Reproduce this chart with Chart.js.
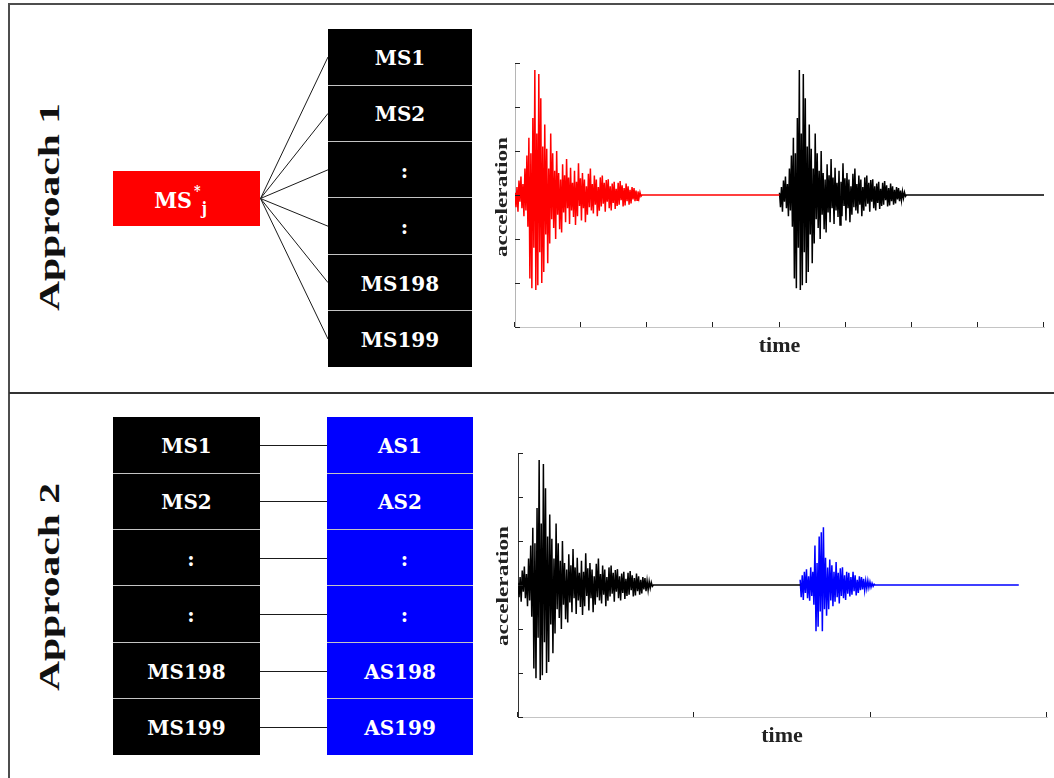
<!DOCTYPE html>
<html>
<head>
<meta charset="utf-8">
<script src="https://cdn.jsdelivr.net/npm/chart.js@4.4.1/dist/chart.umd.min.js"></script>
<style>
html,body{margin:0;padding:0;background:#fff;}
#page{position:relative;width:1054px;height:778px;overflow:hidden;background:#fff;}
.rule{position:absolute;background:#4d4d4d;}
.approach{position:absolute;font:bold 29px "Liberation Serif","Times New Roman",serif;color:#111;white-space:nowrap;line-height:1;transform:translate(-50%,-50%) rotate(-90deg) scaleX(1.43);}
.ylab{position:absolute;font:bold 16.5px "Liberation Serif","Times New Roman",serif;color:#222;white-space:nowrap;line-height:1;transform:translate(-50%,-50%) rotate(-90deg) scaleX(1.41);}
.xlab{position:absolute;font:bold 22px "Liberation Serif","Times New Roman",serif;color:#222;white-space:nowrap;line-height:1;transform:translate(-50%,-50%);}
.col{position:absolute;background:#c4c4c4;}
.cell{position:absolute;left:0;right:0;display:flex;align-items:center;justify-content:center;color:#fff;font:bold 20px "DejaVu Serif",serif;padding-top:2px;box-sizing:border-box;}
.cell.dots{padding-left:9px;}
.redbox{position:absolute;left:113px;top:171px;width:147px;height:55px;background:#ff0000;color:#fff;display:flex;align-items:center;justify-content:center;font:600 23px "DejaVu Serif Condensed","DejaVu Serif",serif;padding-right:12px;padding-top:2px;box-sizing:border-box;}
.redbox .sup{font-size:14px;position:relative;top:-9px;margin-left:2px;}
.redbox .sub{font-size:16px;position:relative;top:9px;margin-left:1px;}
canvas{position:absolute;}
svg{position:absolute;left:0;top:0;}
</style>
</head>
<body>
<div id="page">
  <div class="rule" style="left:9px;top:3px;width:1045px;height:2px;"></div>
  <div class="rule" style="left:8px;top:3px;width:2px;height:775px;"></div>
  <div class="rule" style="left:9px;top:392px;width:1045px;height:2px;background:#333;"></div>

  <div class="approach" style="left:49px;top:207px;">Approach 1</div>
  <div class="approach" style="left:49px;top:587px;">Approach 2</div>

  <div class="redbox">MS<span class="sup">*</span><span class="sub">j</span></div>

  <svg id="links" width="1054" height="778"></svg>
  <div id="cols"></div>

  <canvas id="chart1" width="564" height="330" style="left:490px;top:40px;"></canvas>
  <canvas id="chart2" width="564" height="330" style="left:490px;top:430px;"></canvas>

  <div class="ylab" style="left:502px;top:197px;">acceleration</div>
  <div class="xlab" style="left:779.5px;top:345px;">time</div>
  <div class="ylab" style="left:503px;top:586px;">acceleration</div>
  <div class="xlab" style="left:782px;top:735px;">time</div>
</div>

<script>
// Record labels
const mainshockLabels = ['MS1', 'MS2', ':', ':', 'MS198', 'MS199'];
const aftershockLabels = ['AS1', 'AS2', ':', ':', 'AS198', 'AS199'];

// Mainshock acceleration record (sampled every 0.15 s)
const sampleStep = 0.15;
const mainshockWave = [
  0.05, -0.28, 0.18, -0.38, 0.33, -0.15, 0.42, -0.30, 0.25, -0.48,
  0.60, -0.35, 0.90, -0.72, 1.30, -1.90, 0.95, -2.12, 1.75, -1.20,
  2.84, -2.16, 1.40, -2.05, 2.75, -1.30, 2.20, -2.00, 1.10, -1.75,
  1.60, -0.90, 1.05, -1.55, 0.60, -1.10, 1.40, -0.55, 0.95, -0.75,
  0.55, -1.00, 1.00, -0.45, 0.50, -0.78, 0.35, -0.85, 0.70, -0.40,
  0.45, -0.62, 0.82, -0.30, 0.40, -0.66, 0.62, -0.35, 0.28, -0.50,
  0.55, -0.68, 0.30, -0.48, 0.72, -0.25, 0.38, -0.58, 0.50, -0.30,
  0.35, -0.62, 0.20, -0.45, 0.48, -0.28, 0.60, -0.35, 0.25, -0.42,
  0.44, -0.22, 0.35, -0.48, 0.18, -0.36, 0.40, -0.26, 0.44, -0.20,
  0.28, -0.38, 0.34, -0.15, 0.36, -0.30, 0.20, -0.35, 0.26, -0.18,
  0.30, -0.32, 0.14, -0.25, 0.28, -0.22, 0.32, -0.12, 0.22, -0.26,
  0.16, -0.24, 0.26, -0.14, 0.20, -0.22, 0.12, -0.19, 0.18, -0.10,
  0.16, -0.14, 0.10, -0.12, 0.08, -0.07, 0.06, -0.03, 0.00
];

// Aftershock acceleration record (sampled every 0.15 s)
const aftershockWave = [
  0.12, -0.28, 0.22, -0.34, 0.30, -0.18, 0.36, -0.30, 0.20, -0.36,
  0.40, -0.25, 0.30, -0.45, 0.90, -1.05, 0.50, -0.95, 1.10, -0.60,
  1.20, -1.05, 1.31, -0.55, 0.62, -0.70, 0.40, -0.55, 0.58, -0.35,
  0.45, -0.48, 0.30, -0.38, 0.52, -0.28, 0.28, -0.42, 0.38, -0.25,
  0.40, -0.30, 0.22, -0.34, 0.30, -0.20, 0.28, -0.26, 0.18, -0.22,
  0.30, -0.14, 0.22, -0.24, 0.12, -0.18, 0.20, -0.12, 0.18, -0.10,
  0.14, -0.12, 0.10, -0.08, 0.10, -0.06, 0.07, -0.05, 0.04, -0.03,
  0.02, 0.00
];

// Sequence timing [wave start, record end] in seconds
const seq1First = [0, 40];
const seq1Second = [40, 80];
const seq2First = [0, 40];
const seq2Second = [40, 71];

// Axis ranges and tick steps
const xRange1 = [0, 80], xStep1 = 10;
const xRange2 = [0, 75], xStep2 = 25;
const yRange = [-3, 3], yStep = 1;

// ---- block diagrams ----
const cols = document.getElementById('cols');
const svg = document.getElementById('links');
const rowStep = 56.4, rowH = 55.4;

function column(labels, left, top, width, color) {
  const c = document.createElement('div');
  c.className = 'col';
  c.style.left = left + 'px';
  c.style.top = top + 'px';
  c.style.width = width + 'px';
  c.style.height = (rowStep * (labels.length - 1) + rowH) + 'px';
  labels.forEach((lab, i) => {
    const d = document.createElement('div');
    d.className = 'cell' + (lab === ':' ? ' dots' : '');
    d.style.top = (i * rowStep) + 'px';
    d.style.height = rowH + 'px';
    d.style.background = color;
    d.textContent = lab;
    c.appendChild(d);
  });
  cols.appendChild(c);
}

function link(x1, y1, x2, y2) {
  const l = document.createElementNS('http://www.w3.org/2000/svg', 'line');
  l.setAttribute('x1', x1); l.setAttribute('y1', y1);
  l.setAttribute('x2', x2); l.setAttribute('y2', y2);
  l.setAttribute('stroke', '#1a1a1a');
  l.setAttribute('stroke-width', '1');
  svg.appendChild(l);
}

// Approach 1: one target mainshock linked to every record
const top1 = 29.3;
column(mainshockLabels, 328, top1, 144, '#000');
mainshockLabels.forEach((_, i) => link(260.5, 198.5, 328, top1 + i * rowStep + rowH / 2));

// Approach 2: each mainshock paired with its own aftershock
const top2 = 417.3;
column(mainshockLabels, 113, top2, 147, '#000');
column(aftershockLabels, 327, top2, 146, '#0000ff');
mainshockLabels.forEach((_, i) => {
  const y = Math.round(top2 + i * rowStep + rowH / 2) + 0.5;
  link(260, y, 327, y);
});

// ---- acceleration time histories ----
function wavePoints(wave, span) {
  const pts = wave.map((v, i) => ({ x: span[0] + i * sampleStep, y: v }));
  pts.push({ x: span[1], y: 0 });
  return pts;
}

const innerTicks = {
  id: 'innerTicks',
  afterDraw(chart, args, opts) {
    const { ctx, chartArea } = chart;
    const xs = chart.scales.x, ys = chart.scales.y;
    ctx.save();
    ctx.strokeStyle = opts.color;
    ctx.lineWidth = 1;
    ctx.beginPath();
    xs.ticks.forEach(t => {
      const px = Math.round(xs.getPixelForValue(t.value)) - 0.5;
      ctx.moveTo(px, chartArea.bottom);
      ctx.lineTo(px, chartArea.bottom - opts.length);
    });
    ys.ticks.forEach(t => {
      const py = Math.round(ys.getPixelForValue(t.value)) + 0.5;
      ctx.moveTo(chartArea.left, py);
      ctx.lineTo(chartArea.left + opts.length, py);
    });
    ctx.stroke();
    ctx.restore();
  }
};

function seismoChart(id, datasets, xRange, xStep, yWidth, rightPad, xHeight, yBorder) {
  return new Chart(document.getElementById(id), {
    type: 'line',
    data: { datasets },
    options: {
      responsive: false,
      animation: false,
      devicePixelRatio: 1,
      events: [],
      layout: { padding: { top: 23, right: rightPad, left: 0, bottom: 0 } },
      elements: { point: { radius: 0 }, line: { borderWidth: 1, tension: 0 } },
      plugins: {
        legend: { display: false },
        tooltip: { enabled: false },
        innerTicks: { color: '#222', length: 5 }
      },
      scales: {
        x: {
          type: 'linear', min: xRange[0], max: xRange[1],
          ticks: { display: false, stepSize: xStep },
          grid: { display: false },
          border: { color: '#c4c4c4', width: 1 },
          afterFit: s => { s.height = xHeight; }
        },
        y: {
          type: 'linear', min: yRange[0], max: yRange[1],
          ticks: { display: false, stepSize: yStep },
          grid: { display: false },
          border: { color: yBorder, width: 1 },
          afterFit: s => { s.width = yWidth; }
        }
      }
    },
    plugins: [innerTicks]
  });
}

seismoChart('chart1', [
  { data: wavePoints(mainshockWave, seq1First), borderColor: '#ff0000', borderWidth: 1.5, fill: false },
  { data: wavePoints(mainshockWave, seq1Second), borderColor: '#000000', borderWidth: 1.5, fill: false }
], xRange1, xStep1, 25, 10, 43, '#b5b5b5');

seismoChart('chart2', [
  { data: wavePoints(mainshockWave, seq2First), borderColor: '#000000', borderWidth: 1.5, fill: false },
  { data: wavePoints(aftershockWave, seq2Second), borderColor: '#0000ff', borderWidth: 1.5, fill: false }
], xRange2, xStep2, 28, 7, 43, '#333333');
</script>
</body>
</html>
